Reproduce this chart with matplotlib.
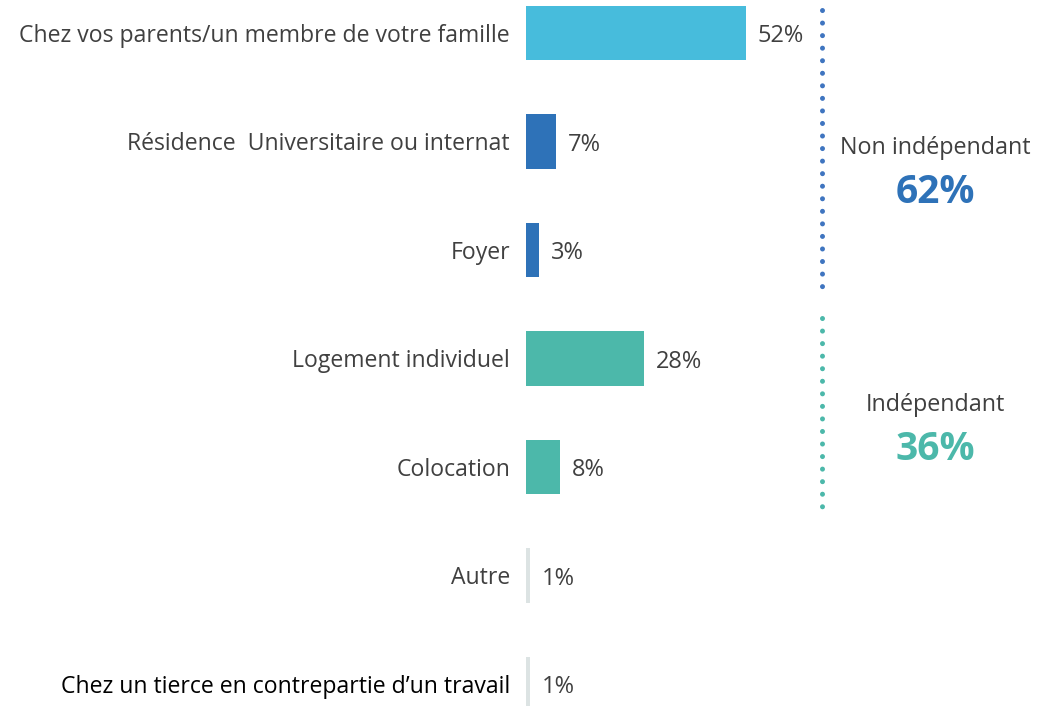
import matplotlib.pyplot as plt

# Data
categories = [
    "Chez vos parents/un membre de votre famille",
    "Résidence  Universitaire ou internat",
    "Foyer",
    "Logement individuel",
    "Colocation",
    "Autre",
    "Chez un tierce en contrepartie d\u2019un travail",
]
values = [52, 7, 3, 28, 8, 1, 1]
bar_colors = ["#47BCDC", "#2E72B8", "#2E72B8", "#4CB8AA", "#4CB8AA", "#DCE3E3", "#DCE3E3"]
label_colors = ["#404040"] * 6 + ["#000000"]

groups = ["Non indépendant", "Indépendant"]
group_totals = ["62%", "36%"]
group_spans = [(-0.21, 2.42), (2.63, 4.42)]
group_text_y = [(1.06, 1.47), (3.43, 3.84)]
group_colors = ["#2E72B8", "#4CB8AA"]
dot_colors = ["#3F75C0", "#4CB8AA"]

plt.rcParams['font.family'] = ['Open Sans', 'DejaVu Sans']

fig = plt.figure(figsize=(10.49, 7.06), dpi=100)
ax = fig.add_axes([526 / 1049, 0, 523 / 1049, 1])

y = list(range(len(categories)))
ax.barh(y, values, height=0.5, color=bar_colors)
ax.set_xlim(0, 123.6)
ax.set_ylim(6.203, -0.304)

ax.set_yticks(y)
ax.set_yticklabels(categories, fontsize=16.6)
for lbl, c in zip(ax.get_yticklabels(), label_colors):
    lbl.set_color(c)
ax.tick_params(axis='y', length=0, pad=11.5)
ax.tick_params(axis='x', bottom=False, labelbottom=False)
for s in ax.spines.values():
    s.set_visible(False)

for yi, v in zip(y, values):
    ax.text(v + 2.8, yi + 0.03, f"{v}%", va='center', ha='left',
            fontsize=17, color="#404040")

# group brackets and totals
x_line = 70
for (a, b), (ty1, ty2), name, tot, col, dcol in zip(group_spans, group_text_y, groups,
                                                     group_totals, group_colors, dot_colors):
    ax.plot([x_line, x_line], [a, b], color=dcol, lw=3.6,
            linestyle=(0, (0.01, 2.5)), dash_capstyle='round')
    ax.text(96.7, ty1, name, ha='center', va='center', fontsize=16.8, color="#404040")
    ax.text(96.7, ty2, tot, ha='center', va='center', fontsize=28,
            fontweight='bold', color=col)

fig.savefig("out.png", dpi=100)
